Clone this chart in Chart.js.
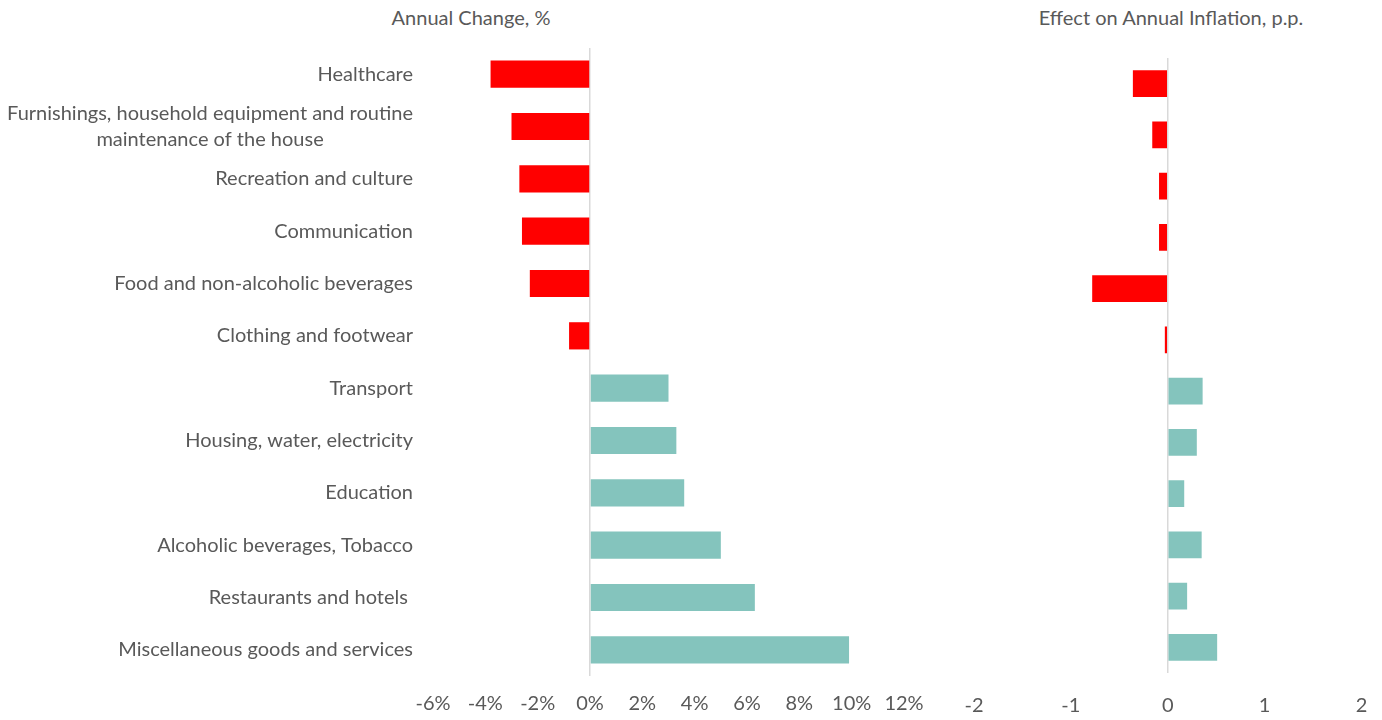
<!DOCTYPE html>
<html>
<head>
<meta charset="utf-8">
<script src="https://cdn.jsdelivr.net/npm/chart.js@4"></script>
<style>
  body { margin: 0; background: #fff; width: 1382px; height: 720px; overflow: hidden; position: relative; font-family: Lato, sans-serif; }
  canvas { position: absolute; top: 0; }
  .ttl { position: absolute; top: 5px; color: #595959; font-size: 20px; transform: translateX(-50%); white-space: nowrap; }
</style>
</head>
<body>
<div class="ttl" style="left:471px">Annual Change, %</div>
<div class="ttl" style="left:1171px">Effect on Annual Inflation, p.p.</div>
<canvas id="left" width="940" height="720" style="left:0"></canvas>
<canvas id="right" width="442" height="720" style="left:940px"></canvas>
<script>
// categories, top to bottom
var categories = [
  "Healthcare",
  ["Furnishings, household equipment and routine", "maintenance of the house"],
  "Recreation and culture",
  "Communication",
  "Food and non-alcoholic beverages",
  "Clothing and footwear",
  "Transport",
  "Housing, water, electricity",
  "Education",
  "Alcoholic beverages, Tobacco",
  "Restaurants and hotels ",
  "Miscellaneous goods and services"
];

// annual change, %
var annualChange = [-3.8, -3.0, -2.7, -2.6, -2.3, -0.8, 3.0, 3.3, 3.6, 5.0, 6.3, 9.9];

// effect on annual inflation, p.p.
var inflationEffect = [-0.36, -0.16, -0.09, -0.09, -0.78, -0.03, 0.36, 0.30, 0.17, 0.35, 0.20, 0.51];

// axis ranges
var pctAxis = { min: -6, max: 12, step: 2 };
var ppAxis = { min: -2, max: 2, step: 1 };

var red = "#FF0000";
var teal = "#84C4BD";
var grey = "#595959";
var fontSize = 20;

Chart.defaults.font.family = "Lato";
Chart.defaults.font.size = fontSize;
Chart.defaults.color = grey;

function colorsFor(vals) {
  return vals.map(function (v) { return v < 0 ? red : teal; });
}

// category labels: block right aligned to the axis, lines centred inside it
var yLabels = {
  id: "yLabels",
  afterDraw: function (chart) {
    var ys = chart.scales.y, ctx = chart.ctx;
    ctx.save();
    ctx.font = fontSize + "px Lato";
    ctx.fillStyle = grey;
    ctx.textAlign = "center";
    ctx.textBaseline = "middle";
    var right = chart.chartArea.left - 20;
    categories.forEach(function (lab, i) {
      var lines = Array.isArray(lab) ? lab : [lab];
      var w = Math.max.apply(null, lines.map(function (l) { return ctx.measureText(l).width; }));
      var cy = ys.getPixelForValue(i);
      lines.forEach(function (l, j) {
        ctx.fillText(l, right - w / 2, cy + (j - (lines.length - 1) / 2) * 26);
      });
    });
    ctx.restore();
  }
};

function makeChart(id, vals, axis, fmt, pad, axisH, tickPad, yW, extra) {
  return new Chart(document.getElementById(id), {
    type: "bar",
    data: {
      labels: categories,
      datasets: [{
        data: vals,
        backgroundColor: colorsFor(vals),
        borderWidth: 0,
        barPercentage: 0.52,
        categoryPercentage: 1
      }]
    },
    options: {
      indexAxis: "y",
      responsive: false,
      animation: false,
      layout: { padding: pad },
      plugins: { legend: { display: false }, tooltip: { enabled: false } },
      scales: {
        x: {
          min: axis.min,
          max: axis.max,
          ticks: {
            stepSize: axis.step,
            padding: tickPad,
            maxRotation: 0,
            callback: function (v) { return fmt(v); }
          },
          grid: {
            drawTicks: false,
            lineWidth: 1.5,
            color: function (c) { return c.tick && c.tick.value === 0 ? "#D9D9D9" : "rgba(0,0,0,0)"; }
          },
          border: { display: false },
          afterFit: function (s) {
            s.height = axisH;
            // layout padding alone decides the plot edges
            s.paddingLeft = 0;
            s.paddingRight = 0;
          }
        },
        y: {
          ticks: { display: false },
          grid: { display: false },
          border: { display: false },
          afterFit: function (s) { s.width = yW; }
        }
      }
    },
    plugins: extra
  });
}

makeChart("left", annualChange, pctAxis, function (v) { return v + "%"; },
  { top: 48, right: 36, bottom: 0, left: 0 }, 44, 16, 433, [yLabels]);
makeChart("right", inflationEffect, ppAxis, function (v) { return String(v); },
  { top: 58, right: 20.5, bottom: 0, left: 0 }, 47, 21, 34, []);
</script>
</body>
</html>
